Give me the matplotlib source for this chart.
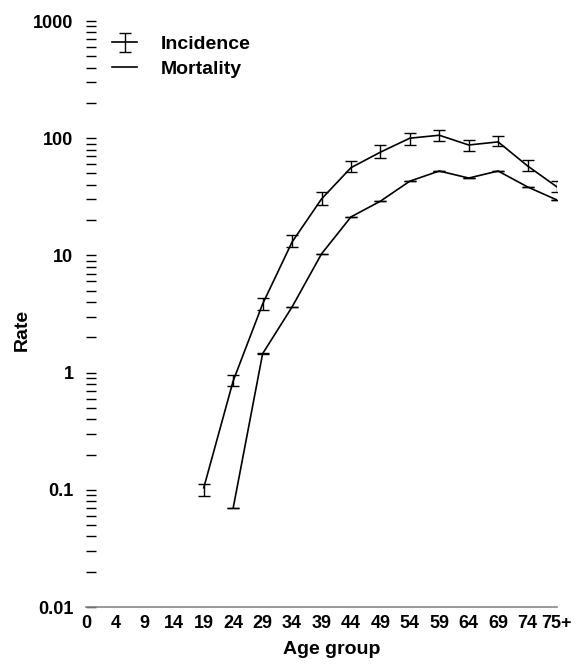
import matplotlib
matplotlib.use("Agg")
import matplotlib.pyplot as plt
from matplotlib.ticker import LogLocator, NullFormatter, FixedLocator
from matplotlib.lines import Line2D
import numpy as np

plt.rcParams['font.family'] = ['Liberation Sans', 'DejaVu Sans']

age_groups = ['0', '4', '9', '14', '19', '24', '29', '34', '39', '44', '49',
              '54', '59', '64', '69', '74', '75+']

inc_groups = ['19', '24', '29', '34', '39', '44', '49', '54', '59', '64', '69', '74', '75+']
inc_rate = [0.104, 0.85, 3.85, 13.0, 30.3, 56.0, 76.0, 100.0, 106.0, 87.5, 93.0, 58.0, 38.4]
inc_low = [0.088, 0.77, 3.4, 11.8, 27.0, 51.0, 68.0, 88.0, 94.0, 78.0, 85.0, 52.0, 35.0]
inc_high = [0.112, 0.95, 4.3, 15.0, 34.5, 64.0, 87.0, 110.0, 118.0, 96.0, 104.0, 65.0, 43.0]

mort_groups = ['24', '29', '34', '39', '44', '49', '54', '59', '64', '69', '74', '75+']
mort_rate = [0.070, 1.45, 3.63, 10.3, 21.3, 29.0, 43.0, 52.5, 45.7, 52.5, 38.4, 29.7]
mort_low = [0.0695, 1.44, 3.61, 10.24, 21.2, 28.85, 42.8, 52.2, 45.5, 52.2, 38.2, 29.55]
mort_high = [0.0705, 1.46, 3.65, 10.36, 21.4, 29.15, 43.2, 52.8, 45.9, 52.8, 38.6, 29.85]

W, H = 584, 664
fig = plt.figure(figsize=(W / 100, H / 100), dpi=100)
ax = fig.add_axes([86 / W, 1 - 607 / H, (557 - 86) / W, (607 - 21) / H])

pos = {g: i for i, g in enumerate(age_groups)}
xi = [pos[g] for g in inc_groups]
xm = [pos[g] for g in mort_groups]

inc_err = [np.array(inc_rate) - np.array(inc_low), np.array(inc_high) - np.array(inc_rate)]
mort_err = [np.array(mort_rate) - np.array(mort_low), np.array(mort_high) - np.array(mort_rate)]

inc_cont = ax.errorbar(xi, inc_rate, yerr=inc_err, color='black', lw=1.2, elinewidth=1.0,
                       capsize=4.5, capthick=1.0, label='Incidence')
ax.errorbar(xm, mort_rate, yerr=mort_err, color='black', lw=1.2, elinewidth=1.0,
            capsize=4.5, capthick=1.0)

ax.set_yscale('log')
ax.set_ylim(0.01, 1000)
ax.set_xlim(0, len(age_groups) - 1)
ax.set_xticks(range(len(age_groups)))
ax.set_xticklabels(age_groups)

ax.yaxis.set_major_locator(FixedLocator([0.01, 0.1, 1, 10, 100, 1000]))
ax.set_yticklabels(['0.01', '0.1', '1', '10', '100', '1000'])
ax.yaxis.set_minor_locator(LogLocator(base=10, subs=np.arange(2, 10), numticks=20))
ax.yaxis.set_minor_formatter(NullFormatter())

ax.tick_params(axis='y', which='both', direction='in', length=7, width=1.0,
               labelsize=13, pad=9, colors='black')
ax.tick_params(axis='x', which='both', length=0, labelsize=13, pad=6)
for lab in ax.get_xticklabels() + ax.get_yticklabels():
    lab.set_fontweight('bold')

for s in ['top', 'right', 'left']:
    ax.spines[s].set_visible(False)
ax.spines['bottom'].set_color('#888888')
ax.spines['bottom'].set_linewidth(1.2)

ax.set_ylabel('Rate', fontsize=14, fontweight='bold')
ax.yaxis.set_label_coords(-0.118, 0.473)
ax.set_xlabel('Age group', fontsize=14, fontweight='bold')
ax.xaxis.set_label_coords(0.522, -0.058)

mort_handle = Line2D([], [], color='black', lw=1.2)
leg = ax.legend([inc_cont, mort_handle], ['Incidence', 'Mortality'],
                loc='upper left', bbox_to_anchor=(0.055, 0.975), frameon=False,
                fontsize=14, handlelength=1.3, handletextpad=1.2, labelspacing=0.35,
                borderaxespad=0, borderpad=0)
for t in leg.get_texts():
    t.set_fontweight('bold')

fig.savefig('out.png', dpi=100)
